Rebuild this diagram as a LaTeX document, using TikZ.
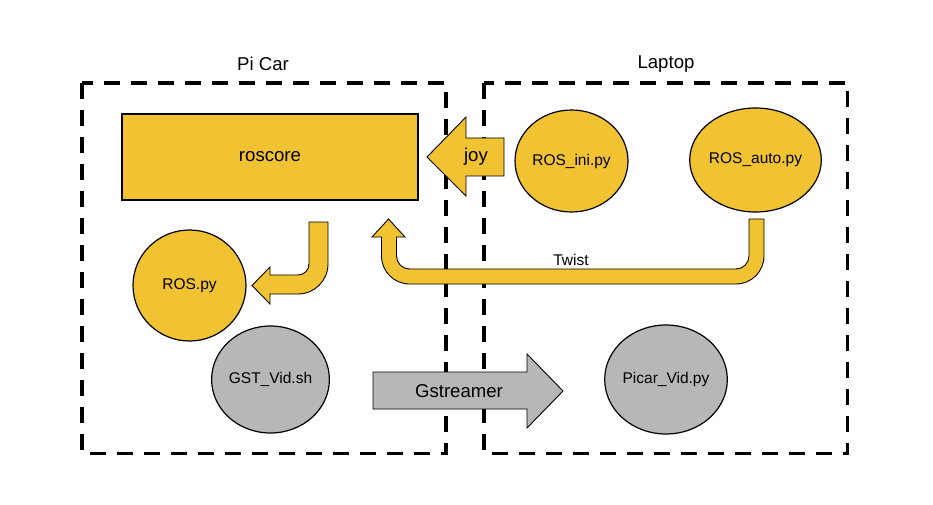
\documentclass[tikz,border=0pt]{standalone}
\usepackage{fontspec}
\setmainfont{Liberation Sans}
\usetikzlibrary{shapes.geometric}
\definecolor{gold}{HTML}{F1C232}
\definecolor{grayfill}{HTML}{B7B7B7}
\tikzset{
  x=1pt,y=1pt,
  bigtext/.style={font=\fontsize{18.6}{22}\selectfont},
  smalltext/.style={font=\fontsize{15.5}{18}\selectfont},
  groupbox/.style={draw=black,line width=3.6pt,dash pattern=on 16pt off 11pt},
  yellowcircle/.style={ellipse,draw=black,line width=1.2pt,fill=gold,inner sep=0pt,smalltext},
  graycircle/.style={ellipse,draw=black,line width=1.2pt,fill=grayfill,inner sep=0pt,smalltext},
  blockarrow/.style={draw=black,line width=0.9pt,line join=miter},
}
\begin{document}
\begin{tikzpicture}
\useasboundingbox (0,0) rectangle (933,-505);
% group boxes
\draw[groupbox] (82,-83) rectangle (446,-453.5);
\draw[groupbox] (484,-83) rectangle (847.5,-453.5);
\node[bigtext] (picar) at (263,-64) {Pi Car};
\node[bigtext] (laptop) at (666,-64) {Laptop};
% nodes
\node[draw=black,line width=1.2pt,fill=gold,minimum width=296pt,minimum height=86pt,inner sep=0pt,bigtext] (roscore) at (270,-157) {roscore};
\node[yellowcircle,minimum width=113pt,minimum height=102pt] (rosini) at (571.5,-161) {ROS\_ini.py};
\node[yellowcircle,minimum width=113pt,minimum height=104pt] (rosauto) at (755.5,-160) {ROS\_auto.py};
\node[yellowcircle,minimum width=113pt,minimum height=111pt] (rospy) at (189.5,-285.5) {ROS.py};
\node[graycircle,minimum width=113pt,minimum height=107pt] (gst) at (270.5,-379.5) {GST\_Vid.sh};
\node[graycircle,minimum width=108pt,minimum height=109pt] (picarvid) at (666,-379.5) {Picar\_Vid.py};
% joy arrow
\draw[blockarrow,fill=gold] (427,-157) -- (466,-117) -- (466,-138) -- (504,-138) -- (504,-176) -- (466,-176) -- (466,-196) -- cycle;
\node[bigtext] (joy) at (476,-157) {joy};
% roscore -> ROS.py bent arrow
\draw[blockarrow,fill=gold] (309,-222) -- (328,-222) -- (328,-264)
  arc[start angle=0,end angle=-90,radius=30] -- (270,-294) -- (270,-304) -- (252,-285.5)
  -- (270,-267) -- (270,-275) -- (298,-275)
  arc[start angle=-90,end angle=0,radius=11] -- cycle;
% Twist arrow
\draw[blockarrow,fill=gold] (749,-219) -- (764,-219) -- (764,-256)
  arc[start angle=0,end angle=-90,radius=28] -- (409.5,-284)
  arc[start angle=270,end angle=180,radius=28] -- (381.5,-237) -- (372,-237)
  -- (388.5,-219) -- (405,-237) -- (396.5,-237) -- (396.5,-256)
  arc[start angle=180,end angle=270,radius=13] -- (736,-269)
  arc[start angle=-90,end angle=0,radius=13] -- cycle;
\node[smalltext] (twist) at (571,-260) {Twist};
% Gstreamer arrow
\draw[blockarrow,fill=grayfill] (373,-372) -- (527,-372) -- (527,-354) -- (563,-391) -- (527,-428) -- (527,-409) -- (373,-409) -- cycle;
\node[bigtext] (gstreamer) at (459,-391) {Gstreamer};
\end{tikzpicture}
\end{document}
